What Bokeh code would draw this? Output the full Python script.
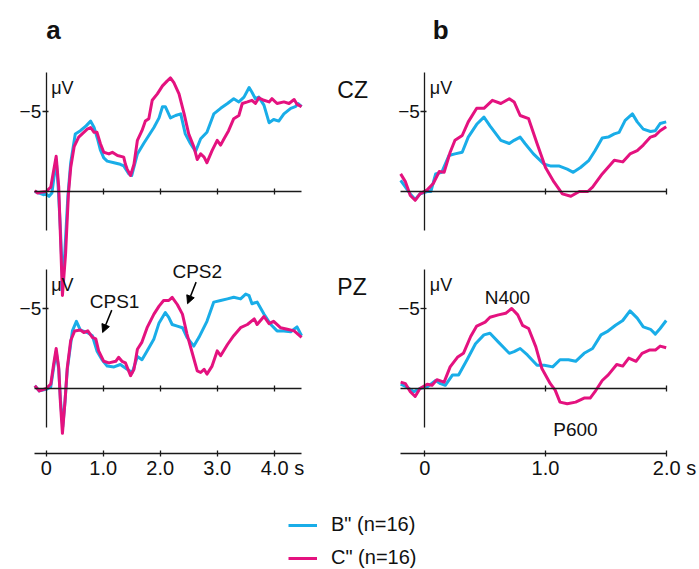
from bokeh.plotting import figure
from bokeh.models import (Range1d, LinearAxis, FixedTicker, Label, Arrow, NormalHead,
                          Legend, LegendItem)
from bokeh.embed import file_html
from bokeh.resources import INLINE

CYAN = "#19ADE8"
MAGENTA = "#E4127F"
FONT = "Liberation Sans"
AX = "#1a1a1a"

# ---------------- data (time in s, amplitude in microvolts, negative up) -------------
A_CZ_B = [(-0.2,0.0),(-0.12,0.1),(-0.05,0.2),(0.0,0.15),(0.05,0.3),(0.1,0.1),(0.14,-1.0),(0.175,-2.0),
          (0.21,-0.3),(0.25,2.4),(0.29,5.8),(0.33,3.6),(0.38,0.3),(0.43,-1.8),(0.51,-3.6),(0.6,-3.8),
          (0.7,-4.1),(0.78,-4.4),(0.84,-4.0),(0.9,-3.3),(0.95,-2.6),(1.01,-2.1),(1.07,-1.9),(1.19,-1.8),
          (1.3,-1.7),(1.36,-1.6),(1.45,-1.1),(1.5,-1.0),(1.6,-2.35),(1.71,-3.0),(1.8,-3.5),(1.89,-4.0),
          (1.98,-4.6),(2.04,-5.3),(2.09,-5.3),(2.18,-4.6),(2.27,-4.75),(2.36,-4.85),(2.44,-3.6),(2.53,-3.0),
          (2.62,-2.5),(2.71,-3.3),(2.82,-3.7),(2.94,-4.85),(3.06,-5.2),(3.18,-5.5),(3.29,-5.8),(3.38,-5.6),
          (3.47,-5.9),(3.56,-6.5),(3.61,-6.2),(3.67,-5.8),(3.73,-5.9),(3.82,-5.4),(3.91,-4.3),(3.99,-4.5),
          (4.08,-4.4),(4.17,-4.85),(4.29,-5.2),(4.37,-5.3),(4.42,-5.5),(4.48,-5.3)]
A_CZ_C = [(-0.2,-0.05),(-0.15,0.1),(-0.1,0.05),(0.0,0.0),(0.08,-0.27),(0.12,-1.1),(0.175,-2.2),(0.22,-0.27),
          (0.25,2.8),(0.285,6.5),(0.34,3.9),(0.39,0.15),(0.43,-1.5),(0.49,-2.8),(0.57,-3.4),(0.72,-3.9),
          (0.78,-4.0),(0.84,-3.7),(0.89,-3.7),(0.95,-3.0),(1.01,-2.45),(1.1,-2.35),(1.16,-2.45),(1.25,-2.25),
          (1.36,-2.15),(1.39,-1.7),(1.42,-1.4),(1.48,-1.0),(1.54,-1.7),(1.6,-3.2),(1.68,-3.8),(1.74,-4.4),
          (1.8,-4.55),(1.86,-5.7),(1.95,-6.1),(2.04,-6.6),(2.12,-6.9),(2.18,-7.1),(2.24,-6.8),(2.33,-6.1),
          (2.42,-4.85),(2.5,-3.6),(2.59,-2.8),(2.65,-2.0),(2.71,-2.35),(2.77,-2.15),(2.82,-1.8),(2.91,-2.55),
          (3.0,-3.2),(3.06,-2.9),(3.12,-3.3),(3.2,-3.8),(3.29,-4.55),(3.38,-4.75),(3.44,-5.5),(3.53,-5.6),
          (3.61,-5.7),(3.67,-5.5),(3.73,-5.85),(3.82,-5.7),(3.91,-5.6),(3.96,-5.8),(4.05,-5.5),(4.17,-5.6),
          (4.26,-5.5),(4.35,-5.75),(4.4,-5.45),(4.48,-5.3)]
A_PZ_B = [(-0.2,-0.17),(-0.12,0.15),(0.0,0.05),(0.08,-0.1),(0.13,-1.3),(0.175,-2.3),(0.22,-1.2),(0.25,0.7),
          (0.29,2.4),(0.33,0.8),(0.37,-1.2),(0.43,-2.8),(0.46,-3.6),(0.53,-4.2),(0.6,-3.65),(0.72,-3.5),
          (0.81,-3.3),(0.89,-2.35),(0.98,-1.8),(1.07,-1.4),(1.19,-1.35),(1.3,-1.5),(1.42,-1.2),(1.51,-1.0),
          (1.6,-2.0),(1.68,-1.8),(1.77,-2.35),(1.89,-3.1),(1.98,-4.1),(2.09,-4.75),(2.15,-4.45),(2.21,-4.0),
          (2.3,-3.9),(2.39,-3.8),(2.47,-3.2),(2.59,-2.65),(2.68,-3.2),(2.82,-4.2),(2.94,-5.4),(3.06,-5.5),
          (3.18,-5.6),(3.29,-5.7),(3.41,-5.6),(3.5,-5.9),(3.56,-5.8),(3.61,-5.3),(3.7,-5.4),(3.82,-4.65),
          (3.94,-4.0),(4.05,-3.6),(4.17,-3.6),(4.29,-3.55),(4.4,-3.85),(4.48,-3.3)]
A_PZ_C = [(-0.2,-0.17),(-0.12,0.15),(0.0,0.0),(0.08,-0.27),(0.13,-1.5),(0.175,-2.5),(0.22,-1.3),(0.25,0.9),
          (0.285,2.8),(0.33,0.8),(0.37,-1.3),(0.43,-3.0),(0.5,-3.6),(0.6,-3.65),(0.66,-3.5),(0.73,-3.6),
          (0.81,-3.2),(0.87,-3.1),(0.92,-2.35),(1.01,-1.7),(1.1,-1.6),(1.22,-1.7),(1.27,-1.95),(1.33,-1.7),
          (1.39,-1.6),(1.48,-0.8),(1.54,-1.2),(1.6,-2.45),(1.68,-2.9),(1.77,-3.8),(1.89,-4.65),(1.98,-5.15),
          (2.06,-5.5),(2.15,-5.5),(2.21,-5.7),(2.3,-5.25),(2.39,-4.65),(2.47,-3.4),(2.56,-2.25),(2.65,-1.1),
          (2.71,-1.0),(2.77,-1.2),(2.82,-0.9),(2.91,-1.4),(3.0,-2.35),(3.06,-2.05),(3.18,-2.75),(3.29,-3.3),
          (3.41,-3.8),(3.53,-4.0),(3.65,-4.35),(3.7,-4.0),(3.82,-4.5),(3.91,-4.05),(3.99,-4.2),(4.11,-3.8),
          (4.23,-3.7),(4.35,-3.6),(4.48,-3.2)]
B_CZ_B = [(-0.2,-0.7),(-0.16,-0.27),(-0.12,0.15),(-0.08,0.5),(-0.04,0.15),(0.02,0.0),(0.05,0.0),(0.09,-1.1),
          (0.14,-1.2),(0.2,-2.25),(0.25,-2.35),(0.31,-2.45),(0.36,-3.4),(0.43,-4.2),(0.49,-4.65),(0.54,-4.1),
          (0.63,-3.2),(0.7,-3.0),(0.74,-3.2),(0.79,-3.4),(0.83,-3.0),(0.9,-2.35),(0.99,-1.7),(1.04,-1.6),
          (1.11,-1.6),(1.18,-1.4),(1.23,-1.2),(1.29,-1.5),(1.36,-1.95),(1.41,-2.55),(1.47,-3.35),(1.52,-3.4),
          (1.57,-3.6),(1.61,-3.7),(1.66,-4.45),(1.72,-4.85),(1.76,-4.35),(1.81,-3.9),(1.87,-3.75),(1.91,-3.8),
          (1.95,-4.25),(2.0,-4.35)]
B_CZ_C = [(-0.2,-1.1),(-0.16,-0.6),(-0.12,0.25),(-0.08,0.55),(-0.04,0.15),(0.02,-0.1),(0.07,-0.5),(0.12,-1.25),
          (0.16,-1.2),(0.21,-2.45),(0.25,-3.2),(0.31,-3.5),(0.36,-4.35),(0.43,-5.2),(0.49,-5.2),(0.56,-5.7),
          (0.63,-5.5),(0.7,-5.8),(0.74,-5.6),(0.79,-4.75),(0.86,-4.55),(0.93,-3.0),(1.0,-1.5),(1.07,-0.6),
          (1.14,0.15),(1.21,0.3),(1.28,0.0),(1.35,0.0),(1.39,-0.27),(1.47,-1.1),(1.57,-1.95),(1.64,-1.85),
          (1.7,-2.35),(1.76,-2.55),(1.81,-2.9),(1.87,-3.4),(1.91,-3.5),(1.95,-3.8),(2.0,-4.05)]
B_PZ_B = [(-0.2,-0.27),(-0.15,-0.1),(-0.09,0.2),(-0.04,0.0),(0.02,-0.1),(0.09,-0.5),(0.13,-0.3),(0.17,-0.2),
          (0.23,-0.85),(0.28,-0.85),(0.35,-1.8),(0.42,-2.8),(0.49,-3.35),(0.54,-3.45),(0.61,-2.9),(0.7,-2.2),
          (0.74,-2.3),(0.79,-2.5),(0.85,-2.1),(0.93,-1.45),(0.99,-1.45),(1.06,-1.35),(1.12,-1.8),(1.19,-1.8),
          (1.25,-1.7),(1.32,-2.2),(1.39,-2.5),(1.46,-3.35),(1.51,-3.55),(1.58,-3.95),(1.64,-4.25),(1.7,-4.85),
          (1.76,-4.4),(1.81,-3.85),(1.87,-3.7),(1.91,-3.4),(1.95,-3.75),(2.0,-4.25)]
B_PZ_C = [(-0.2,-0.4),(-0.16,-0.3),(-0.12,0.2),(-0.08,0.5),(-0.04,0.0),(0.02,-0.27),(0.06,-0.2),(0.1,-0.55),
          (0.16,-0.4),(0.21,-1.35),(0.27,-1.95),(0.32,-2.2),(0.38,-3.25),(0.43,-3.9),(0.5,-4.15),(0.54,-4.45),
          (0.61,-4.6),(0.67,-4.7),(0.72,-5.0),(0.77,-4.6),(0.81,-3.95),(0.86,-3.75),(0.92,-2.6),(0.97,-1.25),
          (1.04,-0.3),(1.08,0.1),(1.12,0.85),(1.18,0.95),(1.25,0.85),(1.32,0.6),(1.37,0.6),(1.41,0.2),
          (1.47,-0.5),(1.52,-0.85),(1.59,-1.5),(1.64,-1.4),(1.69,-1.9),(1.75,-1.7),(1.8,-2.2),(1.86,-2.4),
          (1.91,-2.4),(1.95,-2.65),(2.0,-2.55)]

SERIES_LABELS = ['B" (n=16)', 'C" (n=16)']
A_TICKS = [0, 1, 2, 3, 4]
A_TICK_LABELS = ["0", "1.0", "2.0", "3.0", "\u00a0\u00a0\u00a04.0 s"]
B_TICKS = [0, 1, 2]
B_TICK_LABELS = ["0", "1.0", "\u00a0\u00a0\u00a02.0 s"]
Y_TICK = -5
Y_TICK_LABEL = "\u22125"

# ---------------- layout geometry (pixels) -----------------------------------------
W, H = 699, 569
# panel a: x pixel = 45.7 + 57 * t ; panel b: x pixel = 424.3 + 120.7 * t
A0, AS = 45.7, 57.0
B0, BS = 424.3, 120.7
# CZ row: y pixel (from top) = 191 + 16 * v ; PZ row: y pixel = 388 + 16 * v
CZ0, PZ0, VS = 191.0, 388.0, 16.0

xa = Range1d(-A0 / AS, (W - A0) / AS)
xb = Range1d(-B0 / BS, (W - B0) / BS)
ycz = Range1d(start=(H - CZ0) / VS, end=-CZ0 / VS)
ypz = Range1d(start=(H - PZ0) / VS, end=-PZ0 / VS)

p = figure(width=W, height=H, output_backend="svg", toolbar_location=None,
           x_axis_location=None, y_axis_location=None, min_border=0,
           x_range=xa, y_range=ycz, outline_line_color=None,
           background_fill_color="white", border_fill_color="white")
p.extra_x_ranges = {"b": xb}
p.extra_y_ranges = {"pz": ypz}
p.grid.visible = False


def axis_style(ax):
    ax.axis_line_color = AX
    ax.axis_line_width = 1.3
    ax.major_tick_line_color = AX
    ax.major_tick_line_width = 1.3
    ax.minor_tick_line_color = AX
    ax.minor_tick_line_width = 1.3
    ax.major_label_text_font = FONT
    ax.major_label_text_font_size = "20px"
    ax.major_label_text_color = "#111111"
    return ax


panels = [
    ("default", "default", -0.2, 4.48, [1, 2, 3, 4]),
    ("default", "pz", -0.2, 4.48, [1, 2, 3, 4]),
    ("b", "default", -0.2, 2.0, [1, 2]),
    ("b", "pz", -0.2, 2.0, [1, 2]),
]
for xr, yr, x0, x1, minors in panels:
    # vertical amplitude axis at t = 0
    ya = axis_style(LinearAxis(x_range_name=xr, y_range_name=yr, fixed_location=0,
                               bounds=(-7.44, 2.44),
                               ticker=FixedTicker(ticks=[Y_TICK], minor_ticks=[]),
                               major_label_overrides={Y_TICK: Y_TICK_LABEL},
                               major_tick_in=2, major_tick_out=4, minor_tick_in=0,
                               minor_tick_out=0, major_label_standoff=1))
    ya.major_label_text_font_size = "19px"
    p.add_layout(ya, "left")
    # baseline at 0 microvolt
    bl = axis_style(LinearAxis(x_range_name=xr, y_range_name=yr, fixed_location=0,
                               bounds=(x0, x1),
                               ticker=FixedTicker(ticks=[], minor_ticks=minors),
                               minor_tick_in=3, minor_tick_out=3))
    p.add_layout(bl, "below")

# time axes at the bottom
for xr, x1, ticks, labels in [("default", 4.48, A_TICKS, A_TICK_LABELS),
                              ("b", 2.0, B_TICKS, B_TICK_LABELS)]:
    xa_ = axis_style(LinearAxis(x_range_name=xr, y_range_name="pz", fixed_location=4.04,
                                bounds=(-0.2, x1),
                                ticker=FixedTicker(ticks=ticks, minor_ticks=[]),
                                major_label_overrides=dict(zip(ticks, labels)),
                                major_tick_in=3, major_tick_out=3, minor_tick_in=0,
                                minor_tick_out=0, major_label_standoff=1))
    p.add_layout(xa_, "below")

# traces
legend_renderers = []
for data_b, data_c, xr, yr in [(A_CZ_B, A_CZ_C, "default", "default"),
                               (A_PZ_B, A_PZ_C, "default", "pz"),
                               (B_CZ_B, B_CZ_C, "b", "default"),
                               (B_PZ_B, B_PZ_C, "b", "pz")]:
    rb = p.line([d[0] for d in data_b], [d[1] for d in data_b], color=CYAN, line_width=3,
                line_join="round", x_range_name=xr, y_range_name=yr)
    rc = p.line([d[0] for d in data_c], [d[1] for d in data_c], color=MAGENTA, line_width=3,
                line_join="round", x_range_name=xr, y_range_name=yr)
    if not legend_renderers:
        legend_renderers = [rb, rc]


def label(text, x, y, xr, yr, size="19px", align="left", style="normal", x_offset=0):
    p.add_layout(Label(x=x, y=y, x_range_name=xr, y_range_name=yr, text=text,
                       text_font=FONT, text_font_size=size, text_align=align,
                       text_baseline="alphabetic", text_font_style=style,
                       text_color="#111111", x_offset=x_offset))


label("a", 0.0, -10.1, "default", "default", size="26px", style="bold")
label("b", 0.065, -10.1, "b", "default", size="26px", style="bold")
label("CZ", -0.725, -6.35, "b", "default", size="23px")
label("PZ", -0.725, -6.35, "b", "pz", size="23px")
for xr, yr in [("default", "default"), ("default", "pz"), ("b", "default"), ("b", "pz")]:
    label("\u03bcV", 0, -6.45, xr, yr, size="18px", x_offset=5)
label("CPS1", 1.2, -5.44, "default", "pz", align="center")
label("CPS2", 2.65, -7.31, "default", "pz", align="center")
label("N400", 0.685, -5.69, "b", "pz", align="center")
label("P600", 1.248, 2.56, "b", "pz", align="center")

for xs, ys, xe, ye in [(1.15, -4.9, 0.99, -3.5), (2.63, -6.65, 2.48, -5.3)]:
    p.add_layout(Arrow(end=NormalHead(size=8, fill_color="black", line_color="black"),
                       x_start=xs, y_start=ys, x_end=xe, y_end=ye,
                       x_range_name="default", y_range_name="pz",
                       line_color="black", line_width=1.5))

legend = Legend(items=[LegendItem(label=SERIES_LABELS[0], renderers=[legend_renderers[0]]),
                       LegendItem(label=SERIES_LABELS[1], renderers=[legend_renderers[1]])],
                location=(288, 0), orientation="vertical", border_line_color=None,
                background_fill_alpha=0, label_text_font=FONT, label_text_font_size="20px",
                label_text_color="#111111",
                glyph_width=29, glyph_height=20, label_height=20, spacing=10, padding=0,
                margin=0, label_standoff=14)
p.add_layout(legend, "center")

open("out.html", "w").write(file_html(p, INLINE))
